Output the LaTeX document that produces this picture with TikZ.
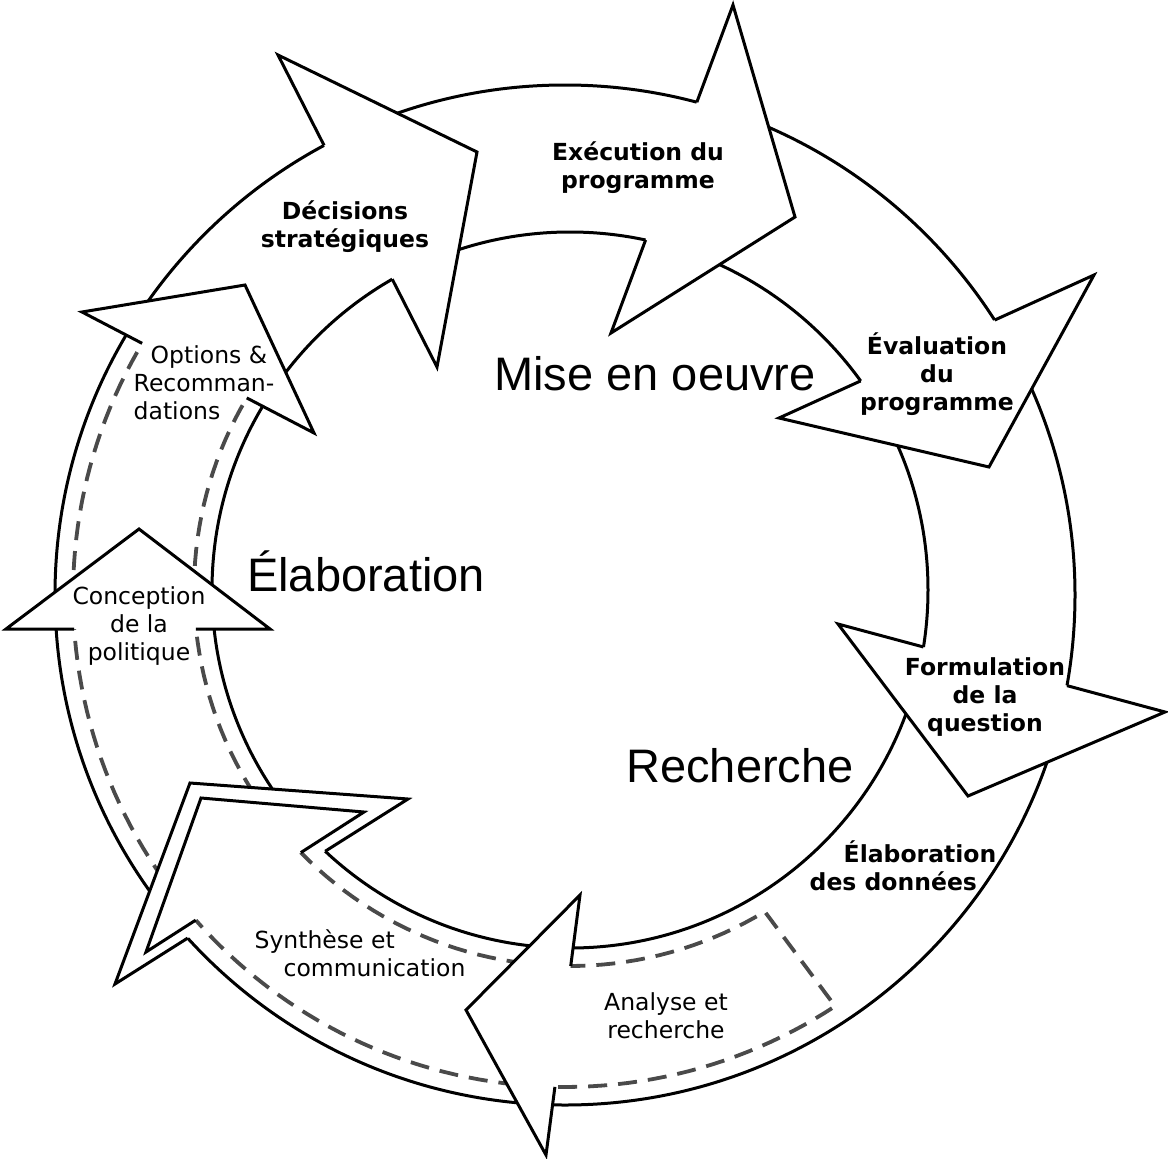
\documentclass[tikz,border=0pt]{standalone}
\usepackage{fontspec}
\setmainfont{DejaVu Sans}
\newfontfamily\bigfont{Liberation Sans}
\usetikzlibrary{intersections,calc}
\definecolor{dashgray}{HTML}{4A4A4A}
\newcommand\defhead[6]{%
  \coordinate (#1B1) at (#2);
  \coordinate (#1T) at (#3);
  \coordinate (#1B2) at (#4);
  \path[name path=#1base] (#1B1) -- (#1B2);
  \path[name intersections={of=#1base and #5, by=#1N1}];
  \path[name intersections={of=#1base and #6, by=#1N2}];
}
\newcommand\fillhead[1]{\fill[white] (#1B1) -- (#1T) -- (#1B2) -- cycle;}
\newcommand\drawhead[1]{\draw[outline] (#1N1) -- (#1B1) -- (#1T) -- (#1B2) -- (#1N2);}
\begin{document}
\begin{tikzpicture}[x=1pt,y=-1pt,
  ringline/.style={line width=3pt, draw=black},
  outline/.style={line width=3pt, draw=black, line join=miter},
  dashline/.style={line width=3.8pt, draw=dashgray, dash pattern=on 19pt off 11pt},
  boldlabel/.style={font=\fontsize{23.5}{28}\selectfont\bfseries, align=center, inner sep=0pt},
  smalllabel/.style={font=\fontsize{23.5}{28}\selectfont, align=center, inner sep=0pt},
  biglabel/.style={font=\bigfont\fontsize{47}{56}\selectfont, inner sep=0pt, anchor=base},
]
\fill[white] (0,0) rectangle (1168,1159);
\useasboundingbox (0,0) rectangle (1168,1159);

% circle paths
\path[name path=Ro] (565,595) circle[radius=510];
\path[name path=Ri] (570,590) circle[radius=358];
\path[name path=Do] (565,595) circle[radius=492];
\path[name path=Di] (570,590) circle[radius=376];

% arrowheads: outer barb, tip, inner barb
\defhead{opt}{82,312}{245,285}{314,433}{Do}{Di}
\defhead{dec}{278,55}{477,152}{437,367}{Ro}{Ri}
\defhead{exe}{733,5}{795,217}{611,333}{Ro}{Ri}
\defhead{eva}{1094,275}{989,467}{779,418}{Ro}{Ri}
\defhead{frm}{1165,712}{968,796}{838,624}{Ro}{Ri}
\defhead{ana}{546,1155}{466,1010}{580,895}{Do}{Di}
\defhead{syo}{115,984}{190,783}{408,799}{Ro}{Ri}
\defhead{syi}{146,952}{201,798}{364,812}{Do}{Di}
\defhead{con}{6,629}{139,529}{270,629}{Do}{Di}

% solid ring
\draw[ringline] (565,595) circle[radius=510];
\draw[ringline] (570,590) circle[radius=358];

\fillhead{syo}

% dashed band
\draw[dashline] plot[domain=214:58.8,samples=90] ({570+376*cos(\x)},{590+376*sin(\x)})
  -- plot[domain=56.7:214,samples=110] ({565+492*cos(\x)},{595+492*sin(\x)});

\fillhead{opt}
\fillhead{dec}
\fillhead{exe}
\fillhead{eva}
\fillhead{frm}
\fillhead{ana}
\fillhead{con}
\fill[white] (syoT) -- (syoB1) -- (syiB1) -- (syiB2) -- (syoB2) -- cycle;

\drawhead{opt}
\drawhead{dec}
\drawhead{exe}
\drawhead{eva}
\drawhead{frm}
\drawhead{ana}
\drawhead{con}
\drawhead{syo}
\drawhead{syi}

% labels
\node[boldlabel] (decL) at (345,227) {Décisions\\stratégiques};
\node[boldlabel] (exeL) at (638,168) {Exécution du\\programme};
\node[boldlabel] (evaL) at (937,374) {Évaluation\\du\\programme};
\node[boldlabel] (frmL) at (985,697) {Formulation\\de la\\question};
\node[boldlabel, align=left] (elabL) at (903,866) {\hspace*{34pt}Élaboration\\des données};
\node[smalllabel, align=left] (optL) at (204,383) {\hspace*{17pt}Options \&\\Recomman-\\dations};
\node[smalllabel] (conL) at (139,626) {Conception\\de la\\politique};
\node[smalllabel, align=left] (synL) at (360,953) {Synthèse et\\\hspace*{29pt}communication};
\node[smalllabel] (anaL) at (666,1016) {Analyse et\\recherche};
\node[biglabel] (miseL) at (655,390) {Mise en oeuvre};
\node[biglabel] (elaboL) at (366,591) {Élaboration};
\node[biglabel] (rechL) at (740,782) {Recherche};
\end{tikzpicture}
\end{document}
